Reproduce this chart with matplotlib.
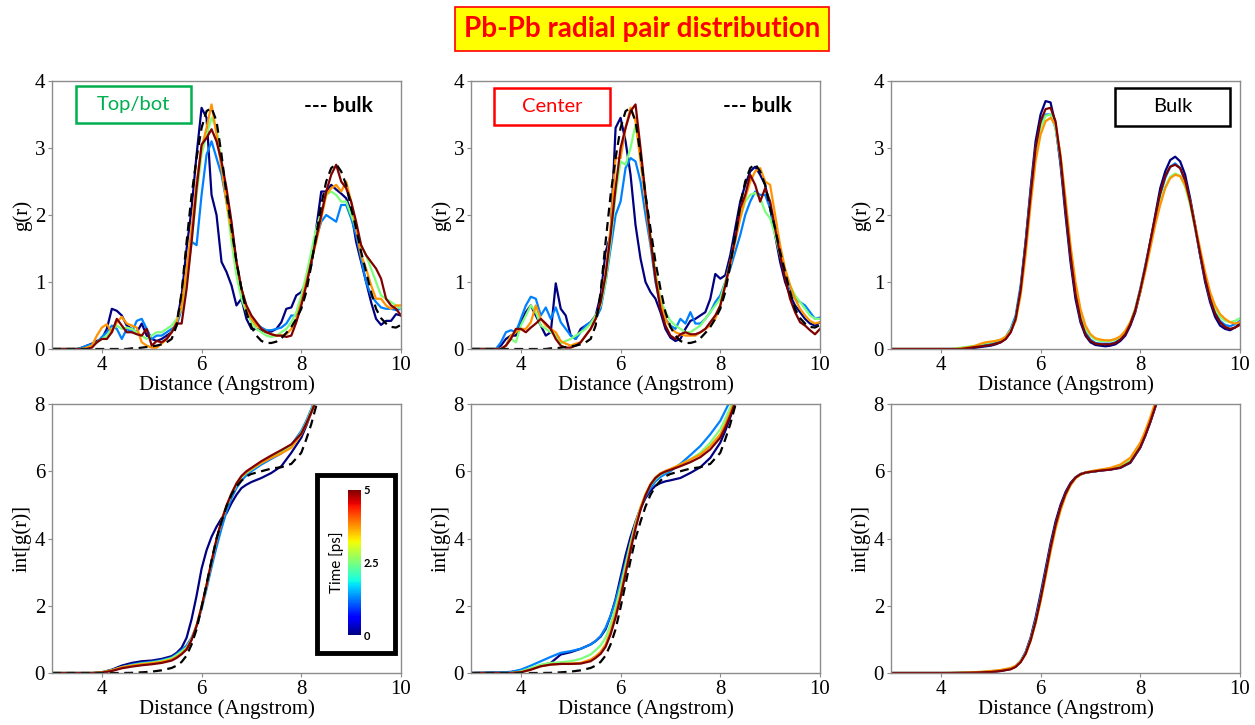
import numpy as np
import matplotlib
matplotlib.use("Agg")
import matplotlib.pyplot as plt
from matplotlib.patches import Rectangle
from matplotlib.colors import Normalize
from matplotlib.colorbar import ColorbarBase

# ---- data ---------------------------------------------------------------
# g(r) grid: 3.0 .. 10.0 step 0.1 (rows of 10 values: 3.x, 4.x, ... 9.x, 10.0)
r_g = np.round(np.arange(3.0, 10.001, 0.1), 1)

# bulk reference (dashed), shared by the Top/bot and Center panels
bulk_ref_g = [0, 0, 0, 0, 0, 0, 0, 0, 0, 0,
              0, 0, 0, 0, 0, 0, 0.01, 0.01, 0.02, 0.03,
              0.04, 0.05, 0.07, 0.1, 0.15, 0.35, 0.85, 1.6, 2.3, 2.85,
              3.3, 3.55, 3.6, 3.4, 2.9, 2.3, 1.8, 1.3, 0.9, 0.55,
              0.33, 0.2, 0.12, 0.09, 0.09, 0.11, 0.16, 0.24, 0.33, 0.45,
              0.6, 0.85, 1.25, 1.7, 2.15, 2.5, 2.7, 2.76, 2.65, 2.45,
              2.1, 1.8, 1.45, 1.15, 0.85, 0.6, 0.46, 0.38, 0.33, 0.32,
              0.36]

# Top/bot, five times (0 -> 5 ps)
tb_t0 = [0, 0, 0, 0, 0, 0, 0.02, 0.05, 0.08, 0.12,
         0.15, 0.3, 0.6, 0.57, 0.5, 0.35, 0.3, 0.25, 0.38, 0.2,
         0.15, 0.12, 0.15, 0.2, 0.25, 0.4, 0.8, 1.5, 2.1, 2.9,
         3.6, 3.45, 2.3, 2.0, 1.3, 1.15, 0.95, 0.65, 0.75, 0.45,
         0.3, 0.3, 0.28, 0.25, 0.26, 0.3, 0.4, 0.6, 0.62, 0.8,
         0.85, 1.0, 1.25, 1.8, 2.35, 2.35, 2.45, 2.38, 2.32, 2.25,
         2.05, 1.6, 1.3, 1.0, 0.7, 0.45, 0.36, 0.42, 0.42, 0.52,
         0.5]
tb_t1 = [0, 0, 0, 0, 0, 0, 0.02, 0.05, 0.07, 0.1,
         0.18, 0.25, 0.35, 0.3, 0.15, 0.3, 0.25, 0.42, 0.45, 0.3,
         0.15, 0.2, 0.2, 0.25, 0.3, 0.35, 0.6, 1.1, 1.6, 1.55,
         2.3, 2.9, 3.1, 2.85, 2.6, 2.2, 1.85, 1.3, 0.9, 0.6,
         0.45, 0.38, 0.32, 0.28, 0.28, 0.3, 0.32, 0.38, 0.5, 0.5,
         0.7, 1.0, 1.3, 1.65, 1.9, 2.0, 1.95, 1.9, 2.15, 2.15,
         1.95, 1.7, 1.35, 1.0, 0.8, 0.7, 0.62, 0.6, 0.6, 0.58,
         0.6]
tb_t2 = [0, 0, 0, 0, 0, 0, 0, 0.02, 0.05, 0.1,
         0.15, 0.2, 0.3, 0.35, 0.3, 0.32, 0.3, 0.25, 0.2, 0.15,
         0.2, 0.25, 0.25, 0.3, 0.35, 0.45, 0.6, 1.0, 1.6, 2.3,
         2.9, 3.2, 3.45, 3.3, 2.8, 2.2, 1.6, 1.1, 0.75, 0.55,
         0.4, 0.3, 0.25, 0.2, 0.18, 0.2, 0.25, 0.3, 0.4, 0.55,
         0.8, 1.1, 1.45, 1.8, 2.05, 2.3, 2.35, 2.3, 2.2, 2.2,
         2.0, 1.8, 1.55, 1.4, 1.2, 1.0, 0.8, 0.75, 0.7, 0.65,
         0.6]
tb_t3 = [0, 0, 0, 0, 0, 0, 0, 0.02, 0.05, 0.2,
         0.32, 0.37, 0.25, 0.4, 0.48, 0.38, 0.35, 0.32, 0.1, 0.05,
         0.02, 0.02, 0.08, 0.15, 0.25, 0.4, 0.65, 1.2, 1.8, 2.5,
         3.0, 3.3, 3.65, 3.2, 2.7, 2.2, 1.75, 1.3, 0.9, 0.6,
         0.45, 0.35, 0.3, 0.25, 0.22, 0.2, 0.2, 0.22, 0.3, 0.45,
         0.7, 1.0, 1.3, 1.6, 1.95, 2.3, 2.4, 2.45, 2.35, 2.5,
         2.2, 1.8, 1.4, 1.2, 0.95, 0.75, 0.75, 0.65, 0.6, 0.65,
         0.65]
tb_t4 = [0, 0, 0, 0, 0, 0, 0, 0, 0.02, 0.1,
         0.15, 0.15, 0.25, 0.45, 0.35, 0.25, 0.25, 0.22, 0.2, 0.3,
         0.05, 0.12, 0.1, 0.15, 0.25, 0.38, 0.38, 0.9, 1.6, 2.4,
         3.05, 3.15, 3.28, 3.1, 2.8, 2.4, 1.9, 1.3, 0.9, 0.65,
         0.5, 0.4, 0.3, 0.25, 0.22, 0.2, 0.2, 0.18, 0.2, 0.4,
         0.65, 0.95, 1.3, 1.65, 2.0, 2.35, 2.6, 2.75, 2.5, 2.4,
         2.2, 1.9, 1.55, 1.4, 1.3, 1.2, 1.05, 0.75, 0.65, 0.6,
         0.5]

# Center
ce_t0 = [0, 0, 0, 0, 0, 0, 0.05, 0.15, 0.2, 0.2,
         0.4, 0.55, 0.65, 0.5, 0.35, 0.2, 0.25, 0.98, 0.6, 0.5,
         0.2, 0.15, 0.3, 0.35, 0.4, 0.5, 0.8, 1.45, 1.7, 3.3,
         3.45, 3.1, 2.6, 1.85, 1.35, 1.0, 0.85, 0.75, 0.55, 0.3,
         0.17, 0.12, 0.15, 0.3, 0.42, 0.45, 0.5, 0.55, 0.75, 1.12,
         1.05, 1.1, 1.4, 1.8, 2.2, 2.45, 2.65, 2.72, 2.6, 2.45,
         2.1, 1.7, 1.3, 1.0, 0.8, 0.65, 0.55, 0.45, 0.38, 0.35,
         0.4]
ce_t1 = [0, 0, 0, 0, 0, 0, 0.1, 0.25, 0.28, 0.25,
         0.45, 0.65, 0.78, 0.75, 0.5, 0.62, 0.45, 0.62, 0.4, 0.3,
         0.2, 0.15, 0.25, 0.35, 0.4, 0.45, 0.6, 1.0, 1.5, 2.0,
         2.2, 2.7, 2.85, 2.8, 2.5, 2.0, 1.55, 1.0, 0.65, 0.45,
         0.35, 0.3, 0.45, 0.38, 0.55, 0.38, 0.38, 0.45, 0.55, 0.7,
         0.8, 1.0, 1.2, 1.45, 1.7, 2.0, 2.2, 2.35, 2.3, 2.3,
         2.1, 1.75, 1.4, 1.1, 0.9, 0.75, 0.7, 0.65, 0.55, 0.45,
         0.47]
ce_t2 = [0, 0, 0, 0, 0, 0, 0, 0.05, 0.15, 0.1,
         0.35, 0.5, 0.65, 0.55, 0.35, 0.3, 0.25, 0.2, 0.08, 0.12,
         0.15, 0.2, 0.25, 0.3, 0.38, 0.5, 0.65, 1.0, 1.6, 2.3,
         2.8, 2.75, 3.0, 3.35, 2.9, 2.3, 1.7, 1.15, 0.75, 0.55,
         0.42, 0.35, 0.3, 0.25, 0.25, 0.3, 0.35, 0.45, 0.55, 0.65,
         0.75, 1.0, 1.3, 1.65, 1.95, 2.2, 2.3, 2.33, 2.25, 2.05,
         1.95, 1.7, 1.4, 1.15, 0.95, 0.8, 0.7, 0.6, 0.5, 0.45,
         0.45]
ce_t3 = [0, 0, 0, 0, 0, 0, 0, 0.05, 0.2, 0.25,
         0.3, 0.3, 0.4, 0.65, 0.45, 0.35, 0.3, 0.25, 0.12, 0.08,
         0.05, 0.08, 0.1, 0.2, 0.3, 0.45, 0.7, 1.15, 1.8, 2.85,
         2.85, 3.3, 3.6, 3.4, 2.8, 2.2, 1.6, 1.1, 0.7, 0.45,
         0.32, 0.25, 0.22, 0.2, 0.2, 0.2, 0.25, 0.3, 0.35, 0.45,
         0.65, 0.95, 1.25, 1.6, 1.95, 2.25, 2.5, 2.65, 2.7, 2.5,
         2.45, 2.0, 1.55, 1.2, 0.95, 0.75, 0.6, 0.5, 0.42, 0.38,
         0.4]
ce_t4 = [0, 0, 0, 0, 0, 0, 0, 0.05, 0.15, 0.3,
         0.3, 0.25, 0.32, 0.38, 0.45, 0.38, 0.3, 0.15, 0.05, 0.02,
         0.02, 0.05, 0.1, 0.2, 0.3, 0.45, 0.7, 1.1, 1.7, 2.4,
         3.0, 3.3, 3.55, 3.65, 3.0, 2.3, 1.65, 1.05, 0.6, 0.35,
         0.2, 0.15, 0.22, 0.25, 0.22, 0.22, 0.25, 0.3, 0.4, 0.5,
         0.65, 0.95, 1.3, 1.65, 2.1, 2.3, 2.6, 2.45, 2.2, 2.4,
         2.2, 1.8, 1.4, 1.05, 0.75, 0.55, 0.4, 0.35, 0.28, 0.22,
         0.3]

# Bulk
bk_t0 = [0, 0, 0, 0, 0, 0, 0, 0, 0, 0,
         0, 0, 0, 0, 0, 0.01, 0.01, 0.02, 0.03, 0.04,
         0.05, 0.07, 0.1, 0.15, 0.25, 0.45, 0.9, 1.6, 2.4, 3.1,
         3.5, 3.7, 3.68, 3.35, 2.75, 2.0, 1.3, 0.75, 0.4, 0.2,
         0.1, 0.06, 0.05, 0.04, 0.05, 0.07, 0.12, 0.2, 0.35, 0.55,
         0.85, 1.2, 1.6, 2.0, 2.4, 2.65, 2.82, 2.87, 2.8, 2.6,
         2.25, 1.85, 1.4, 1.0, 0.7, 0.48, 0.35, 0.3, 0.28, 0.32,
         0.38]
bk_t1 = [0, 0, 0, 0, 0, 0, 0, 0, 0, 0,
         0, 0, 0, 0, 0.01, 0.02, 0.03, 0.04, 0.05, 0.06,
         0.08, 0.1, 0.13, 0.18, 0.3, 0.5, 0.95, 1.6, 2.35, 3.0,
         3.35, 3.5, 3.5, 3.3, 2.8, 2.1, 1.4, 0.85, 0.45, 0.25,
         0.14, 0.09, 0.08, 0.08, 0.08, 0.1, 0.15, 0.24, 0.38, 0.6,
         0.9, 1.25, 1.6, 1.95, 2.3, 2.55, 2.72, 2.77, 2.7, 2.5,
         2.2, 1.8, 1.4, 1.05, 0.75, 0.55, 0.42, 0.36, 0.34, 0.37,
         0.42]
bk_t2 = [0, 0, 0, 0, 0, 0, 0, 0, 0, 0,
         0, 0, 0, 0.01, 0.02, 0.03, 0.04, 0.05, 0.07, 0.09,
         0.1, 0.12, 0.14, 0.18, 0.28, 0.45, 0.85, 1.5, 2.25, 2.9,
         3.3, 3.48, 3.5, 3.3, 2.85, 2.2, 1.5, 0.95, 0.55, 0.3,
         0.2, 0.14, 0.12, 0.12, 0.12, 0.14, 0.18, 0.27, 0.4, 0.6,
         0.88, 1.2, 1.55, 1.9, 2.2, 2.42, 2.57, 2.62, 2.58, 2.42,
         2.15, 1.8, 1.45, 1.1, 0.8, 0.6, 0.48, 0.42, 0.4, 0.42,
         0.46]
bk_t3 = [0, 0, 0, 0, 0, 0, 0, 0, 0, 0,
         0, 0, 0, 0, 0.01, 0.02, 0.03, 0.05, 0.08, 0.1,
         0.11, 0.12, 0.14, 0.18, 0.27, 0.42, 0.8, 1.4, 2.15, 2.8,
         3.2, 3.4, 3.45, 3.35, 2.9, 2.25, 1.55, 1.0, 0.6, 0.35,
         0.22, 0.16, 0.14, 0.13, 0.13, 0.15, 0.19, 0.27, 0.4, 0.58,
         0.85, 1.15, 1.5, 1.85, 2.15, 2.4, 2.55, 2.6, 2.58, 2.45,
         2.2, 1.85, 1.5, 1.15, 0.85, 0.65, 0.52, 0.45, 0.4, 0.38,
         0.4]
bk_t4 = [0, 0, 0, 0, 0, 0, 0, 0, 0, 0,
         0, 0, 0, 0, 0, 0.01, 0.02, 0.03, 0.04, 0.05,
         0.06, 0.08, 0.1, 0.15, 0.25, 0.45, 0.88, 1.55, 2.3, 3.0,
         3.4, 3.58, 3.6, 3.4, 2.85, 2.1, 1.4, 0.82, 0.45, 0.22,
         0.12, 0.08, 0.07, 0.07, 0.07, 0.09, 0.14, 0.22, 0.37, 0.58,
         0.88, 1.22, 1.6, 1.97, 2.33, 2.58, 2.72, 2.75, 2.7, 2.52,
         2.2, 1.82, 1.42, 1.05, 0.75, 0.53, 0.4, 0.33, 0.3, 0.32,
         0.36]

# int[g(r)] grid
r_int = [3.0, 3.8, 4.0, 4.2, 4.4, 4.6, 4.8, 5.0, 5.2, 5.4,
         5.5, 5.6, 5.7, 5.8, 5.9, 6.0, 6.1, 6.2, 6.3, 6.4,
         6.5, 6.6, 6.7, 6.8, 6.9, 7.0, 7.2, 7.4,
         7.6, 7.8, 8.0, 8.1, 8.2, 8.3, 8.4, 8.5]

bulk_ref_int = [0, 0, 0, 0, 0, 0.005, 0.02, 0.04, 0.08, 0.15,
                0.22, 0.33, 0.52, 0.85, 1.3, 1.95, 2.65, 3.35, 4.0, 4.5,
                4.95, 5.3, 5.55, 5.72, 5.85, 5.92, 6.0, 6.08,
                6.12, 6.22, 6.55, 6.95, 7.4, 7.95, 8.5, 9.0]

ti_t0 = [0, 0, 0.02, 0.1, 0.22, 0.3, 0.35, 0.37, 0.42, 0.5,
         0.6, 0.75, 1.05, 1.6, 2.3, 3.1, 3.65, 4.05, 4.35, 4.6,
         4.75, 5.05, 5.3, 5.5, 5.6, 5.68, 5.8, 5.95,
         6.15, 6.55, 7.0, 7.35, 7.75, 8.15, 8.55, 9.0]
ti_t1 = [0, 0, 0.02, 0.08, 0.18, 0.25, 0.3, 0.33, 0.38, 0.46,
         0.56, 0.68, 0.82, 1.05, 1.4, 1.9, 2.5, 3.15, 3.75, 4.3,
         4.8, 5.2, 5.5, 5.72, 5.88, 6.0, 6.2, 6.37,
         6.53, 6.78, 7.2, 7.5, 7.85, 8.25, 8.6, 9.0]
ti_t2 = [0, 0, 0.02, 0.08, 0.17, 0.23, 0.28, 0.31, 0.36, 0.44,
         0.53, 0.64, 0.76, 1.0, 1.4, 1.95, 2.6, 3.3, 3.95, 4.5,
         4.95, 5.3, 5.6, 5.82, 5.95, 6.05, 6.25, 6.42,
         6.58, 6.76, 7.15, 7.45, 7.8, 8.2, 8.6, 9.0]
ti_t3 = [0, 0, 0.02, 0.08, 0.17, 0.22, 0.26, 0.29, 0.33, 0.4,
         0.48, 0.58, 0.72, 1.0, 1.42, 1.98, 2.62, 3.32, 3.97, 4.52,
         4.97, 5.32, 5.62, 5.84, 5.97, 6.07, 6.25, 6.4,
         6.53, 6.7, 7.1, 7.4, 7.75, 8.15, 8.55, 9.0]
ti_t4 = [0, 0, 0.01, 0.06, 0.14, 0.19, 0.23, 0.26, 0.3, 0.37,
         0.45, 0.56, 0.7, 0.98, 1.4, 1.97, 2.62, 3.32, 3.98, 4.53,
         4.98, 5.34, 5.64, 5.86, 6.0, 6.1, 6.3, 6.47,
         6.63, 6.8, 7.12, 7.42, 7.75, 8.12, 8.5, 8.9]

ci_t0 = [0, 0.03, 0.08, 0.12, 0.22, 0.3, 0.55, 0.62, 0.72, 0.85,
         0.95, 1.08, 1.3, 1.7, 2.2, 2.85, 3.5, 4.05, 4.5, 4.9,
         5.2, 5.42, 5.57, 5.65, 5.7, 5.73, 5.8, 5.95,
         6.12, 6.4, 6.85, 7.2, 7.6, 8.05, 8.5, 9.0]
ci_t1 = [0, 0.03, 0.1, 0.22, 0.35, 0.48, 0.6, 0.65, 0.72, 0.85,
         0.95, 1.1, 1.35, 1.7, 2.15, 2.7, 3.3, 3.9, 4.45, 4.9,
         5.25, 5.5, 5.7, 5.83, 5.92, 6.0, 6.22, 6.48,
         6.75, 7.1, 7.5, 7.8, 8.1, 8.4, 8.7, 9.0]
ci_t2 = [0, 0, 0.05, 0.15, 0.25, 0.3, 0.32, 0.35, 0.42, 0.55,
         0.68, 0.82, 1.05, 1.45, 1.95, 2.55, 3.2, 3.85, 4.45, 4.92,
         5.3, 5.58, 5.77, 5.9, 5.98, 6.04, 6.2, 6.35,
         6.55, 6.85, 7.25, 7.55, 7.9, 8.3, 8.7, 9.1]
ci_t3 = [0, 0, 0.02, 0.1, 0.2, 0.25, 0.27, 0.28, 0.3, 0.4,
         0.5, 0.63, 0.85, 1.25, 1.75, 2.35, 3.05, 3.75, 4.4, 4.92,
         5.32, 5.62, 5.82, 5.94, 6.01, 6.07, 6.2, 6.35,
         6.5, 6.75, 7.1, 7.4, 7.75, 8.15, 8.55, 8.95]
ci_t4 = [0, 0, 0.02, 0.1, 0.2, 0.25, 0.27, 0.27, 0.28, 0.35,
         0.45, 0.57, 0.78, 1.15, 1.65, 2.25, 2.95, 3.65, 4.3, 4.85,
         5.28, 5.6, 5.8, 5.92, 5.99, 6.04, 6.15, 6.27,
         6.42, 6.65, 7.0, 7.3, 7.65, 8.05, 8.45, 8.85]

bi_t0 = [0, 0, 0, 0, 0.005, 0.01, 0.02, 0.03, 0.06, 0.12,
         0.2, 0.35, 0.62, 1.05, 1.65, 2.35, 3.1, 3.85, 4.5, 5.0,
         5.38, 5.65, 5.82, 5.92, 5.96, 5.98, 6.02, 6.05,
         6.1, 6.25, 6.7, 7.05, 7.45, 7.9, 8.4, 8.9]
bi_t1 = [0, 0, 0, 0.002, 0.008, 0.015, 0.025, 0.04, 0.07, 0.13,
         0.2, 0.35, 0.6, 1.0, 1.58, 2.25, 3.0, 3.75, 4.4, 4.92,
         5.32, 5.6, 5.8, 5.9, 5.95, 5.98, 6.02, 6.06,
         6.12, 6.28, 6.72, 7.08, 7.48, 7.93, 8.42, 8.92]
bi_t2 = [0, 0, 0, 0.003, 0.01, 0.02, 0.03, 0.05, 0.08, 0.14,
         0.2, 0.35, 0.58, 0.98, 1.52, 2.18, 2.92, 3.68, 4.35, 4.88,
         5.3, 5.6, 5.8, 5.91, 5.96, 5.99, 6.04, 6.08,
         6.15, 6.32, 6.76, 7.12, 7.52, 7.97, 8.45, 8.95]
bi_t3 = [0, 0, 0, 0.003, 0.01, 0.02, 0.035, 0.06, 0.09, 0.15,
         0.21, 0.34, 0.56, 0.95, 1.48, 2.12, 2.85, 3.6, 4.28, 4.83,
         5.27, 5.58, 5.79, 5.9, 5.96, 6.0, 6.05, 6.1,
         6.2, 6.4, 6.85, 7.2, 7.6, 8.05, 8.5, 9.0]
bi_t4 = [0, 0, 0, 0, 0.005, 0.01, 0.02, 0.03, 0.06, 0.11,
         0.18, 0.32, 0.57, 0.97, 1.52, 2.2, 2.95, 3.72, 4.4, 4.93,
         5.33, 5.62, 5.81, 5.91, 5.96, 5.98, 6.02, 6.05,
         6.11, 6.27, 6.72, 7.07, 7.47, 7.92, 8.4, 8.9]

times = [0, 1.25, 2.5, 3.75, 5.0]
x_ticks = [4, 6, 8, 10]
g_ticks = [0, 1, 2, 3, 4]
int_ticks = [0, 2, 4, 6, 8]

# ---- figure --------------------------------------------------------------
plt.rcParams["font.family"] = "Liberation Serif"
SANS = "Lato"
cmap = plt.cm.jet
norm = Normalize(0, 5)
colors = [cmap(norm(t)) for t in times]

fig = plt.figure(figsize=(12.55, 7.25), dpi=100)

col_left = [52 / 1255, 471 / 1255, 891 / 1255]
w = 349 / 1255
top_b, top_h = 1 - 349 / 725, 268 / 725
bot_b, bot_h = 1 - 673 / 725, 269 / 725


def style(ax, ylim, yticks, ylabel):
    ax.set_xlim(3, 10)
    ax.set_ylim(*ylim)
    ax.set_xticks(x_ticks)
    ax.set_yticks(yticks)
    for s in ax.spines.values():
        s.set_color("#8c8c8c")
        s.set_linewidth(1.0)
    ax.tick_params(colors="#8c8c8c", labelcolor="black", labelsize=15,
                   length=3, width=0.8, pad=2)
    ax.set_xlabel("Distance (Angstrom)", fontsize=15, labelpad=0)
    ax.set_ylabel(ylabel, fontsize=15, labelpad=2)


top_sets = [[tb_t0, tb_t1, tb_t2, tb_t3, tb_t4],
            [ce_t0, ce_t1, ce_t2, ce_t3, ce_t4],
            [bk_t0, bk_t1, bk_t2, bk_t3, bk_t4]]
bot_sets = [[ti_t0, ti_t1, ti_t2, ti_t3, ti_t4],
            [ci_t0, ci_t1, ci_t2, ci_t3, ci_t4],
            [bi_t0, bi_t1, bi_t2, bi_t3, bi_t4]]

for i in range(3):
    ax = fig.add_axes([col_left[i], top_b, w, top_h])
    for c, g in zip(colors, top_sets[i]):
        ax.plot(r_g, g, color=c, lw=1.6)
    if i < 2:
        ax.plot(r_g, bulk_ref_g, color="black", lw=1.6, ls=(0, (4, 2.5)))
    style(ax, (0, 4), g_ticks, "g(r)")

    axb = fig.add_axes([col_left[i], bot_b, w, bot_h])
    for c, v in zip(colors, bot_sets[i]):
        axb.plot(r_int, v, color=c, lw=1.6)
    if i < 2:
        axb.plot(r_int, bulk_ref_int, color="black", lw=1.6, ls=(0, (4, 2.5)))
    style(axb, (0, 8), int_ticks, "int[g(r)]")

    # labelled boxes
    if i == 0:
        box, label, col = (76, 86, 191, 123), "Top/bot", "#00b050"
    elif i == 1:
        box, label, col = (494, 88, 610, 125), "Center", "#ff0000"
    else:
        box, label, col = (1115, 88, 1230, 126), "Bulk", "black"
    x0, y0, x1, y1 = box
    fig.patches.append(Rectangle((x0 / 1255, 1 - y1 / 725), (x1 - x0) / 1255,
                                 (y1 - y0) / 725, transform=fig.transFigure,
                                 fill=False, edgecolor=col, lw=1.8))
    fig.text((x0 + x1) / 2 / 1255, 1 - (y0 + y1) / 2 / 725, label,
             color=col, fontsize=14.5, family=SANS, ha="center", va="center")
    if i < 2:
        ax.text(0.82, 0.905, "--- bulk", transform=ax.transAxes, fontsize=15,
                family=SANS, fontweight="bold", ha="center", va="center")

# title
fig.text(642 / 1255, 1 - 29 / 725, "Pb-Pb radial pair distribution",
         color="#ff0000", fontsize=20, fontweight="bold", family=SANS,
         ha="center", va="center",
         bbox=dict(boxstyle="square,pad=0.33", facecolor="#ffff00",
                   edgecolor="#ff0000", lw=1.2))

# colour bar inside the first lower panel
fig.patches.append(Rectangle((317 / 1255, 1 - 653 / 725), 78 / 1255, 178 / 725,
                             transform=fig.transFigure, facecolor="white",
                             edgecolor="black", lw=3.5, zorder=5))
cax = fig.add_axes([348 / 1255, 1 - 635 / 725, 13 / 1255, 145 / 725])
cax.set_zorder(10)
cb = ColorbarBase(cax, cmap=cmap, norm=norm, ticks=[0, 2.5, 5])
cb.outline.set_visible(False)
cb.ax.set_yticklabels(["0", "2.5", "5"], fontsize=8, fontweight="bold",
                      family=SANS)
cb.ax.tick_params(length=0, pad=2)
cb.ax.yaxis.set_label_position("left")
cb.set_label("Time [ps]", fontsize=11, family=SANS, labelpad=3)

fig.savefig("out.png", dpi=100)
